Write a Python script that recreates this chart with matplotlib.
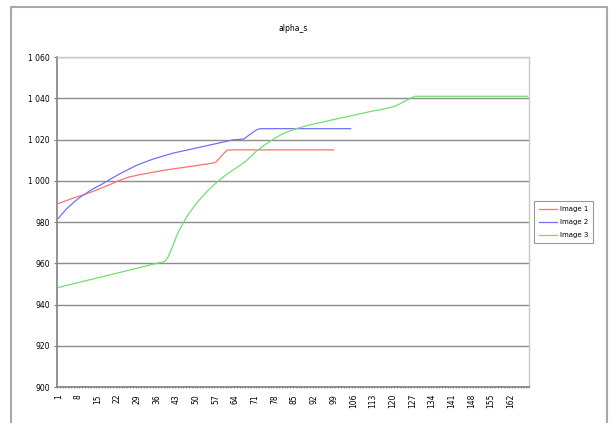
import matplotlib
matplotlib.use("Agg")
import matplotlib.pyplot as plt
from matplotlib.patches import Rectangle
from matplotlib.ticker import FuncFormatter

# valori
image1 = [989.0, 989.5, 990.0, 990.5, 991.0, 991.5, 992.0, 992.4, 992.8, 993.2,
          993.7, 994.2, 994.7, 995.2, 995.8, 996.3, 996.9, 997.5, 998.0, 998.6,
          999.2, 999.8, 1000.3, 1000.8, 1001.3, 1001.8, 1002.1, 1002.4, 1002.7, 1003.0,
          1003.2, 1003.5, 1003.7, 1004.0, 1004.2, 1004.5, 1004.7, 1005.0, 1005.2, 1005.4,
          1005.6, 1005.8, 1006.0, 1006.2, 1006.4, 1006.6, 1006.8, 1007.0, 1007.2, 1007.4,
          1007.6, 1007.8, 1008.0, 1008.2, 1008.4, 1008.6, 1009.0, 1010.5, 1012.0, 1013.5,
          1014.8, 1015.0, 1015.0, 1015.0, 1015.0, 1015.0, 1015.0, 1015.0, 1015.0, 1015.0,
          1015.0, 1015.0, 1015.0, 1015.0, 1015.0, 1015.0, 1015.0, 1015.0, 1015.0, 1015.0,
          1015.0, 1015.0, 1015.0, 1015.0, 1015.0, 1015.0, 1015.0, 1015.0, 1015.0, 1015.0,
          1015.0, 1015.0, 1015.0, 1015.0, 1015.0, 1015.0, 1015.0, 1015.0, 1015.0]

image2 = [981.8, 983.5, 985.0, 986.5, 987.8, 989.0, 990.2, 991.3, 992.3, 993.2,
          994.1, 995.0, 995.8, 996.6, 997.3, 998.0, 998.8, 999.6, 1000.4, 1001.2,
          1002.0, 1002.8, 1003.5, 1004.2, 1004.9, 1005.6, 1006.3, 1007.0, 1007.6, 1008.2,
          1008.7, 1009.2, 1009.7, 1010.2, 1010.7, 1011.1, 1011.5, 1011.9, 1012.3, 1012.7,
          1013.1, 1013.5, 1013.8, 1014.1, 1014.4, 1014.7, 1015.0, 1015.3, 1015.6, 1015.9,
          1016.2, 1016.5, 1016.8, 1017.1, 1017.4, 1017.7, 1018.0, 1018.3, 1018.6, 1018.9,
          1019.2, 1019.5, 1019.8, 1020.0, 1020.0, 1020.2, 1020.3, 1021.3, 1022.3, 1023.3,
          1024.3, 1025.0, 1025.3, 1025.3, 1025.3, 1025.3, 1025.3, 1025.3, 1025.3, 1025.3,
          1025.3, 1025.3, 1025.3, 1025.3, 1025.3, 1025.3, 1025.3, 1025.3, 1025.3, 1025.3,
          1025.3, 1025.3, 1025.3, 1025.3, 1025.3, 1025.3, 1025.3, 1025.3, 1025.3, 1025.3,
          1025.3, 1025.3, 1025.3, 1025.3, 1025.3]

image3 = [948.3, 948.6, 949.0, 949.3, 949.6, 950.0, 950.3, 950.6, 951.0, 951.3,
          951.6, 952.0, 952.3, 952.6, 953.0, 953.3, 953.6, 954.0, 954.3, 954.6,
          955.0, 955.3, 955.6, 956.0, 956.3, 956.6, 957.0, 957.3, 957.6, 958.0,
          958.3, 958.6, 959.0, 959.3, 959.6, 960.0, 960.3, 960.6, 961.0, 963.0,
          966.0, 969.5, 973.0, 976.0, 978.5, 981.0, 983.2, 985.2, 987.0, 988.8,
          990.5, 992.0, 993.5, 995.0, 996.3, 997.6, 998.8, 1000.0, 1001.1, 1002.2,
          1003.2, 1004.2, 1005.1, 1006.0, 1006.9, 1007.8, 1008.8, 1009.9, 1011.1, 1012.4,
          1013.8, 1015.0, 1016.0, 1017.0, 1018.0, 1018.9, 1019.8, 1020.6, 1021.4, 1022.2,
          1022.9, 1023.5, 1024.0, 1024.5, 1025.0, 1025.4, 1025.8, 1026.2, 1026.6, 1027.0,
          1027.3, 1027.6, 1027.9, 1028.2, 1028.5, 1028.8, 1029.1, 1029.4, 1029.7, 1030.0,
          1030.3, 1030.6, 1030.9, 1031.2, 1031.5, 1031.8, 1032.1, 1032.4, 1032.7, 1033.0,
          1033.3, 1033.6, 1033.9, 1034.1, 1034.3, 1034.6, 1034.9, 1035.2, 1035.5, 1035.9,
          1036.3, 1037.0, 1037.7, 1038.4, 1039.1, 1039.8, 1040.5, 1041.0, 1041.0, 1041.0,
          1041.0, 1041.0, 1041.0, 1041.0, 1041.0, 1041.0, 1041.0, 1041.0, 1041.0, 1041.0,
          1041.0, 1041.0, 1041.0, 1041.0, 1041.0, 1041.0, 1041.0, 1041.0, 1041.0, 1041.0,
          1041.0, 1041.0, 1041.0, 1041.0, 1041.0, 1041.0, 1041.0, 1041.0, 1041.0, 1041.0,
          1041.0, 1041.0, 1041.0, 1041.0, 1041.0, 1041.0, 1041.0, 1041.0]

n_cat = len(image3)
y_ticks = [900, 920, 940, 960, 980, 1000, 1020, 1040, 1060]

fig = plt.figure(figsize=(6.13, 4.23), dpi=100)
ax = fig.add_axes([0.093, 0.085, 0.77, 0.78])

# bordo esterno del grafico
fig.patches.append(Rectangle((11 / 613, -0.01), 596 / 613, 1.01 - 7 / 423,
                             transform=fig.transFigure, fill=False,
                             edgecolor='#a8a8a8', lw=1.5))

ax.plot(range(1, len(image1) + 1), image1, color='#ff7070', lw=0.9, label='Image 1')
ax.plot(range(1, len(image2) + 1), image2, color='#7070ff', lw=0.9, label='Image 2')
ax.plot(range(1, len(image3) + 1), image3, color='#70e070', lw=0.9, label='Image 3')

ax.set_xlim(0.5, n_cat + 0.5)
ax.set_ylim(900, 1060)
ax.set_yticks(y_ticks)
ax.yaxis.set_major_formatter(FuncFormatter(lambda v, p: f"{int(v):,}".replace(",", " ")))
ax.yaxis.grid(True, color='#8c8c8c', lw=1)
ax.set_axisbelow(True)

xt = list(range(1, n_cat + 1, 7))
ax.set_xticks(xt)
ax.set_xticklabels([str(v) for v in xt], rotation=90, fontsize=5.5)
ax.set_xticks([i + 0.5 for i in range(0, n_cat + 1)], minor=True)
ax.tick_params(axis='x', which='major', length=0, pad=5)
ax.tick_params(axis='x', which='minor', length=2, direction='inout', color='#808080')
ax.tick_params(axis='y', labelsize=5.5, length=2, color='#808080', pad=3)

for s in ['left', 'bottom']:
    ax.spines[s].set_color('#808080')
    ax.spines[s].set_linewidth(1.2)
for s in ['top', 'right']:
    ax.spines[s].set_color('#c8c8c8')
    ax.spines[s].set_linewidth(1)

ax.set_title('alpha_s', fontsize=5.5, pad=19)

leg = ax.legend(loc='center left', bbox_to_anchor=(1.01, 0.5), fontsize=5,
                frameon=True, fancybox=False, edgecolor='#808080',
                handlelength=2.6, handletextpad=0.5, borderpad=0.7,
                labelspacing=1.0, borderaxespad=0)
leg.get_frame().set_linewidth(0.8)

fig.savefig('out.png', dpi=100)
